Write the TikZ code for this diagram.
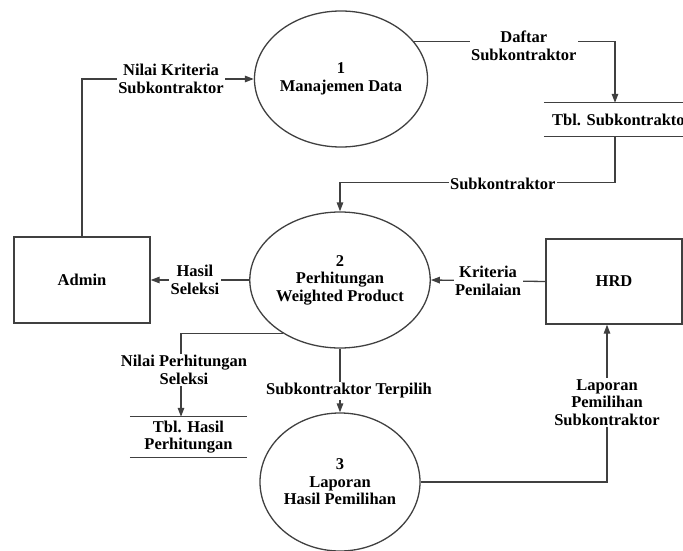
\documentclass[tikz,border=0pt]{standalone}
\usepackage{fontspec}
\setmainfont{Liberation Serif}
\usetikzlibrary{arrows.meta,shapes.geometric}
\begin{document}
\begin{tikzpicture}[x=1pt,y=-1pt,
  font=\fontsize{16.5}{17.5}\selectfont\bfseries,
  line/.style={draw=black!75, line width=1.3pt},
  flow/.style={line, -{Triangle[length=9pt,width=6.5pt]}},
  proc/.style={ellipse, draw=black!75, line width=1.3pt, align=center, inner sep=0pt},
  ent/.style={rectangle, draw=black!75, line width=1.3pt, align=center, inner sep=0pt},
  lbl/.style={fill=white, align=center, inner sep=1.5pt},
  store/.style={inner sep=0pt, align=center}]
\useasboundingbox (0,0) rectangle (683,551);

% processes
\node[proc, minimum width=155pt, minimum height=136pt] (p1) at (341,79) {1\\Manajemen Data};
\node[proc, minimum width=158pt, minimum height=136pt] (p2) at (340,280) {2\\Perhitungan\\Weighted Product};
\node[proc, minimum width=160pt, minimum height=138pt] (p3) at (340,482) {3\\Laporan\\Hasil Pemilihan};

% external entities
\node[ent, minimum width=136pt, minimum height=86pt] (admin) at (82,280) {Admin};
\node[ent, minimum width=136pt, minimum height=85pt] (hrd) at (614,281.5) {HRD};

% data stores
\node[store, minimum width=142pt, minimum height=33pt] (tbls) at (615,119.5) {};
\node[store, anchor=west] (tblstext) at (552,120) {Tbl. Subkontraktor};
\draw[line] (tbls.north west) -- (tbls.north east);
\draw[line] (tbls.south west) -- (tbls.south east);

\node[store, minimum width=117pt, minimum height=40pt] (tblh) at (188.5,437) {Tbl. Hasil\\Perhitungan};
\draw[line] (tblh.north west) -- (tblh.north east);
\draw[line] (tblh.south west) -- (tblh.south east);

% flows
\draw[flow] (admin.north) |- (p1.west)
  node[lbl, pos=0.759] (l1) {Nilai Kriteria\\Subkontraktor};
\draw[flow] (p1.27) -| (tbls.north)
  node[lbl, pos=0.273, yshift=-4pt] (l2) {Daftar\\Subkontraktor};
\draw[flow] (tbls.south) -- ++(0,46) -| (p2.north)
  node[lbl, pos=0.204, yshift=-2pt] (l3) {Subkontraktor};
\draw[flow] (p2.west) -- (admin.east)
  node[lbl, pos=0.55] (l4) {Hasil\\Seleksi};
\draw[flow] (hrd.west) -- (p2.east)
  node[lbl, pos=0.5] (l5) {Kriteria\\Penilaian};
\draw[flow] (p2.223) -| ([xshift=-7.5pt]tblh.north)
  node[lbl, pos=0.72, xshift=3pt] (l6) {Nilai Perhitungan\\Seleksi};
\draw[flow] (p2.south) -- (p3.north)
  node[lbl, pos=0.66, xshift=9pt] (l7) {Subkontraktor Terpilih};
\draw[flow] (p3.east) -| ([xshift=-7pt]hrd.south)
  node[lbl, pos=0.753] (l8) {Laporan\\Pemilihan\\Subkontraktor};
\end{tikzpicture}
\end{document}
